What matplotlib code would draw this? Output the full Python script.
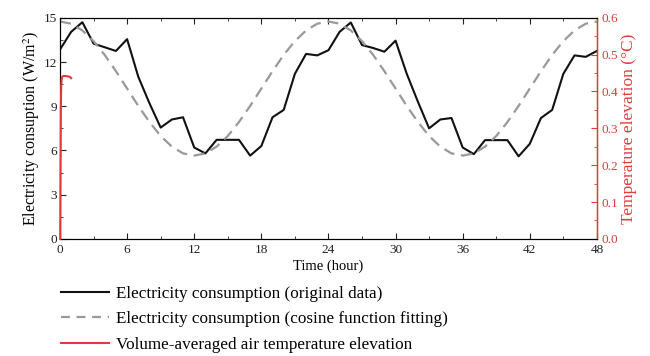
import numpy as np
import matplotlib
matplotlib.use("Agg")
from matplotlib import pyplot as plt
from matplotlib.lines import Line2D
from matplotlib.ticker import MultipleLocator

plt.rcParams["font.family"] = ["Liberation Serif", "DejaVu Serif"]
plt.rcParams["mathtext.fontset"] = "stix"

# hourly electricity consumption (original data), W/m2
hours = list(range(49))
consumption = [
    12.85, 14.05, 14.7, 13.25, 13.0, 12.75, 13.55, 11.0, 9.2, 7.55,
    8.1, 8.25, 6.2, 5.8, 6.72, 6.72, 6.72, 5.65, 6.3, 8.25,
    8.75, 11.2, 12.55, 12.45, 12.8, 14.05, 14.68, 13.15, 12.95, 12.7,
    13.45, 11.2, 9.3, 7.5, 8.1, 8.2, 6.2, 5.75, 6.7, 6.7,
    6.7, 5.6, 6.45, 8.2, 8.75, 11.2, 12.45, 12.35, 12.75,
]

# cosine function fitting, read hourly
cosine_fit = [
    14.75, 14.6, 14.14, 13.42, 12.48, 11.38, 10.2, 9.02, 7.93, 6.98,
    6.26, 5.8, 5.65, 5.8, 6.26, 6.98, 7.93, 9.02, 10.2, 11.38,
    12.48, 13.42, 14.14, 14.6, 14.75, 14.6, 14.14, 13.42, 12.48, 11.38,
    10.2, 9.02, 7.93, 6.98, 6.26, 5.8, 5.65, 5.8, 6.26, 6.98,
    7.93, 9.02, 10.2, 11.38, 12.48, 13.42, 14.14, 14.6, 14.75,
]

# volume-averaged air temperature elevation, degC
temp_time = [0.02, 0.05, 0.08, 0.11, 0.15, 0.2, 0.3, 0.5, 0.7, 0.85, 0.95, 1.0]
temp_rise = [0, 0.2, 0.36, 0.415, 0.433, 0.44, 0.442, 0.442, 0.441, 0.44, 0.438, 0.436]

black = "#111111"
grey = "#999999"
red = "#e23a3a"

fig = plt.figure(figsize=(6.5, 3.56), dpi=100)
ax = fig.add_axes([0.0923, 0.329, 0.826, 0.621])
ax2 = ax.twinx()

ax.plot(hours, consumption, color=black, lw=1.5)
ax.plot(hours, cosine_fit, color=grey, lw=1.6, dashes=(5, 3))
ax2.plot(temp_time, temp_rise, color=red, lw=1.5, zorder=5, clip_on=False)

ax.set_xlim(0, 48)
ax.set_ylim(0, 15)
ax2.set_ylim(0, 0.6)

ax.xaxis.set_major_locator(MultipleLocator(6))
ax.xaxis.set_minor_locator(MultipleLocator(3))
ax.yaxis.set_major_locator(MultipleLocator(3))
ax.yaxis.set_minor_locator(MultipleLocator(1.5))
ax2.yaxis.set_major_locator(MultipleLocator(0.1))
ax2.yaxis.set_minor_locator(MultipleLocator(0.05))
ax2.yaxis.set_major_formatter(lambda v, p: f"{v:.1f}")

ax.tick_params(which="both", direction="in", top=True, right=False,
               labelsize=9.5, pad=2, colors="#222222")
ax.tick_params(axis="x", pad=3.5)
ax.tick_params(which="major", length=4)
ax.tick_params(which="minor", length=2)
ax2.tick_params(which="both", direction="in", colors=red, labelsize=9.5, pad=3)
ax2.tick_params(which="major", length=4)
ax2.tick_params(which="minor", length=2)
for side in ["left", "top", "bottom"]:
    ax.spines[side].set_color("#222222")
ax2.spines["right"].set_color(red)
ax2.spines["right"].set_linewidth(1.0)

ax.set_xlabel("Time (hour)", fontsize=10.5, labelpad=3)
ax.set_ylabel("Electricity consuption (W/m$^2$)", fontsize=11.5, labelpad=1)
ax2.set_ylabel("Temperature elevation (°C)", fontsize=12.5, color=red, labelpad=2)

handles = [
    Line2D([], [], color=black, lw=1.5),
    Line2D([], [], color=grey, lw=1.6, dashes=(4, 3)),
    Line2D([], [], color=red, lw=1.5),
]
labels = [
    "Electricity consumption (original data)",
    "Electricity consumption (cosine function fitting)",
    "Volume-averaged air temperature elevation",
]
fig.legend(handles, labels, loc="upper left", bbox_to_anchor=(0.0935, 0.197),
           frameon=False, fontsize=12.3, handlelength=2.8, handletextpad=0.45,
           labelspacing=0.55, borderpad=0, borderaxespad=0)

fig.savefig("out.png", dpi=100)
